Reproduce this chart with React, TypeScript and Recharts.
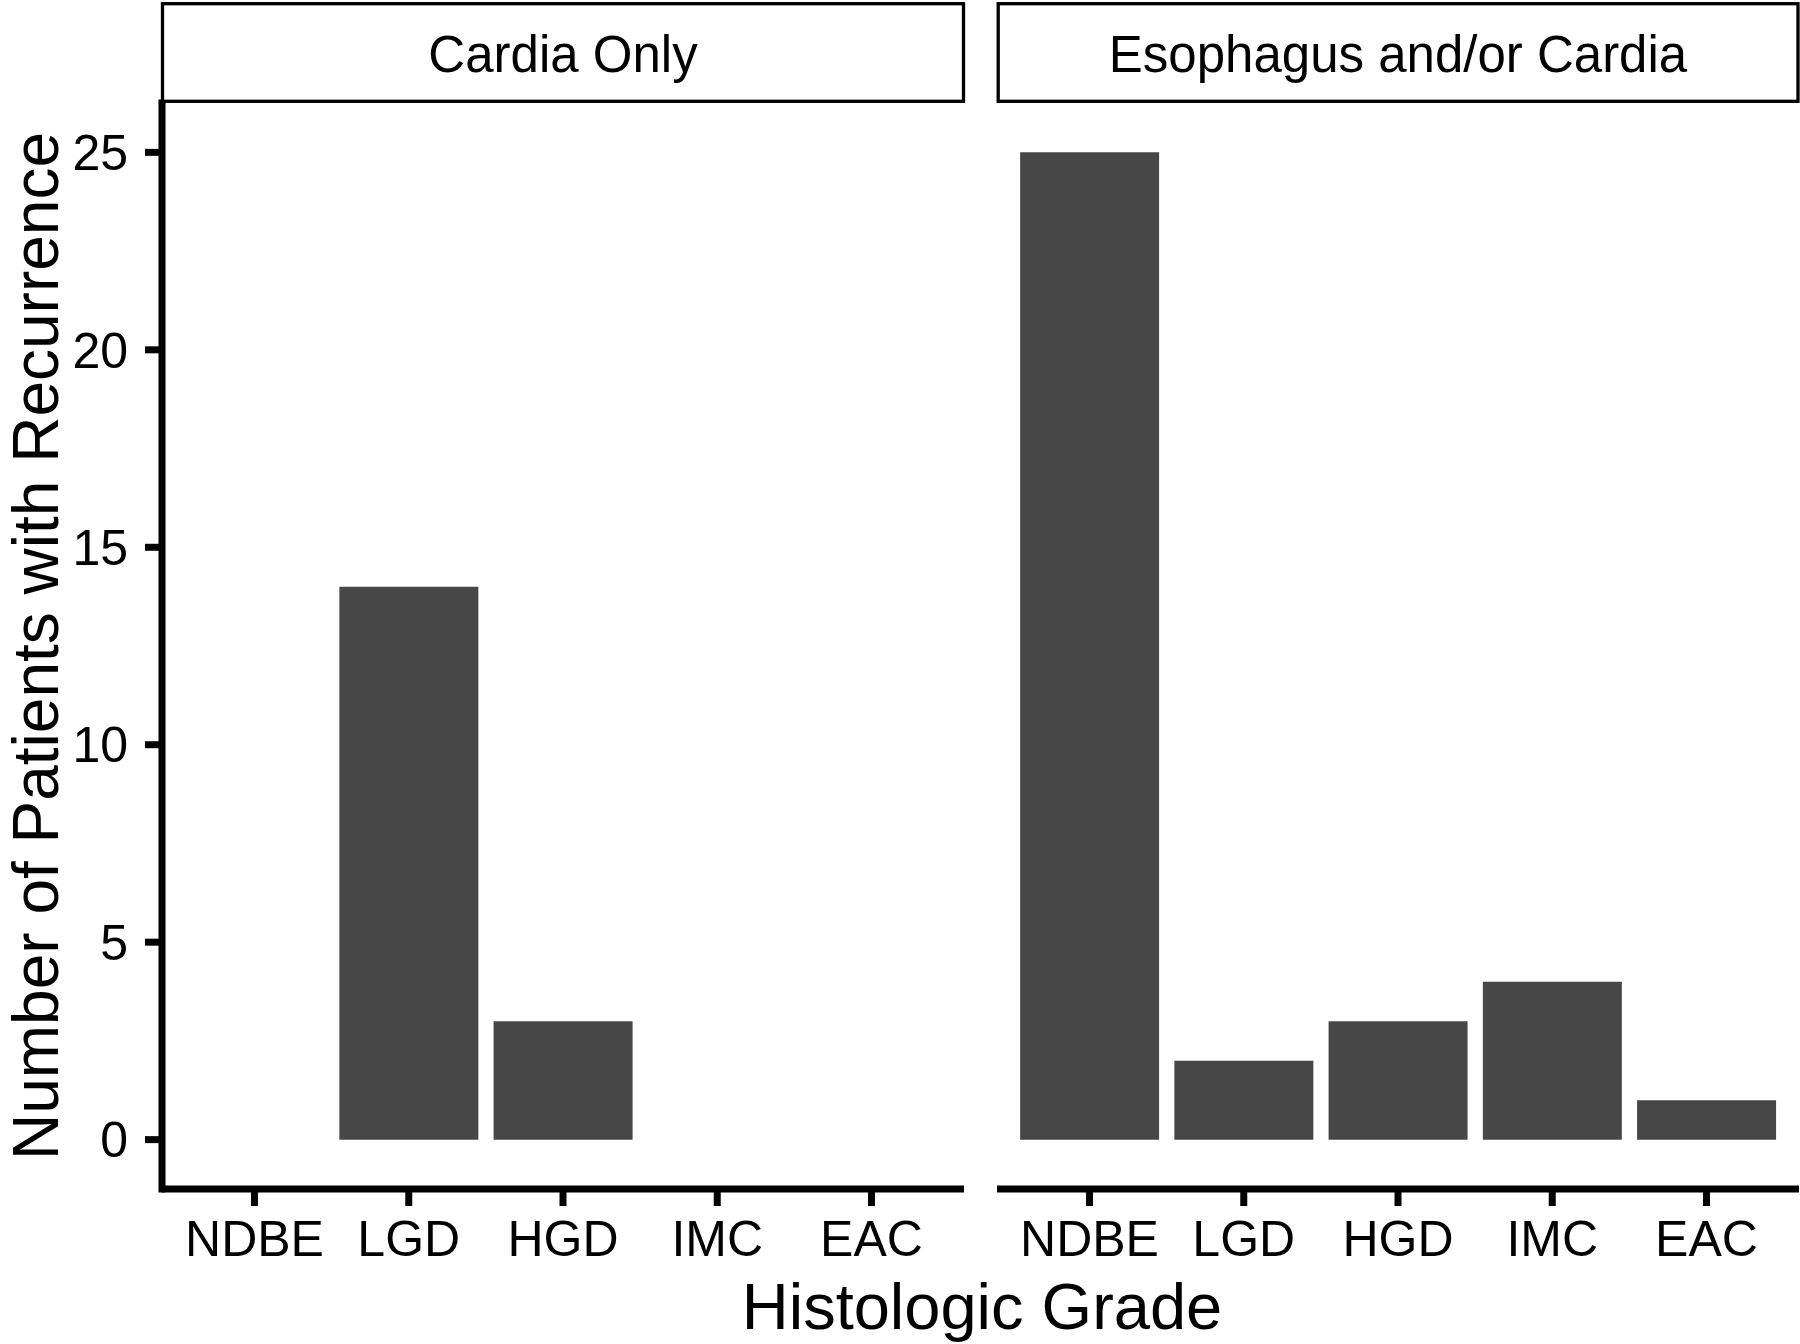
import { BarChart, Bar, XAxis, YAxis } from "recharts";

const grades = ["NDBE", "LGD", "HGD", "IMC", "EAC"];
const cardiaOnly = [0, 14, 3, 0, 0];
const esophagusOrCardia = [25, 2, 3, 4, 1];
const yTicks = [0, 5, 10, 15, 20, 25];
const panelTitles = ["Cardia Only", "Esophagus and/or Cardia"];
const xTitle = "Histologic Grade";
const yTitle = "Number of Patients with Recurrence";

const FONT = "'Liberation Sans', Arial, Helvetica, sans-serif";
const BAR_FILL = "#474747";
const PANEL_W = 802;
const TOP = 103;
const X_AXIS_H = 155;
const PAD = 15.4; // ggplot's 0.6 discrete expansion, minus half a band

const leftData = grades.map((g, i) => ({ grade: g, count: cardiaOnly[i] }));
const rightData = grades.map((g, i) => ({ grade: g, count: esophagusOrCardia[i] }));

const tickStyle = { fill: "#000", fontSize: 50, fontFamily: FONT };
const lineStyle = { stroke: "#000", strokeWidth: 7 };

const renderYTitle = () => (
  <text
    x={58}
    y={646}
    transform="rotate(-90, 58, 646)"
    textAnchor="middle"
    fontSize={64}
    fontFamily={FONT}
    fill="#000"
  >
    {yTitle}
  </text>
);

const Panel = ({
  data,
  showY,
}: {
  data: { grade: string; count: number }[];
  showY: boolean;
}) => {
  const yw = showY ? 162 : 0;
  return (
    <BarChart
      width={PANEL_W + yw + (showY ? 16 : 0)}
      height={1344}
      data={data}
      margin={{ top: TOP, right: showY ? 16 : 0, left: 0, bottom: 0 }}
      barCategoryGap="5%"
    >
      <XAxis
        dataKey="grade"
        type="category"
        interval={0}
        height={X_AXIS_H}
        padding={{ left: PAD, right: PAD }}
        tick={tickStyle}
        tickSize={17}
        tickMargin={14}
        axisLine={lineStyle}
        tickLine={lineStyle}
      />
      <YAxis
        type="number"
        domain={[-1.25, 26.25]}
        allowDataOverflow
        ticks={yTicks}
        hide={!showY}
        width={yw}
        tick={tickStyle}
        tickSize={17}
        tickMargin={17}
        axisLine={{ ...lineStyle, strokeLinecap: "square" }}
        tickLine={lineStyle}
        label={showY ? { position: "insideLeft", content: renderYTitle } : undefined}
      />
      <Bar dataKey="count" fill={BAR_FILL} isAnimationActive={false} />
    </BarChart>
  );
};

export default function App() {
  return (
    <div style={{ position: "absolute", left: 0, top: 0, width: 1800, height: 1344, background: "#fff" }}>
      <div style={{ position: "absolute", left: 0, top: 0 }}>
        <Panel data={leftData} showY />
      </div>
      <div style={{ position: "absolute", left: 996.5, top: 0 }}>
        <Panel data={rightData} showY={false} />
      </div>
      <svg
        width={1800}
        height={1344}
        style={{ position: "absolute", left: 0, top: 0, pointerEvents: "none" }}
      >
        <rect x={162.5} y={3.7} width={801} height={97.6} fill="#fff" stroke="#000" strokeWidth={3.3} />
        <text x={563} y={72} textAnchor="middle" fontSize={51} fontFamily={FONT} fill="#000">
          {panelTitles[0]}
        </text>
        <rect x={998.2} y={3.7} width={799.8} height={97.6} fill="#fff" stroke="#000" strokeWidth={3.3} />
        <text x={1398} y={72} textAnchor="middle" fontSize={51} fontFamily={FONT} fill="#000">
          {panelTitles[1]}
        </text>
        <text x={982} y={1329} textAnchor="middle" fontSize={65} fontFamily={FONT} fill="#000">
          {xTitle}
        </text>
      </svg>
    </div>
  );
}
